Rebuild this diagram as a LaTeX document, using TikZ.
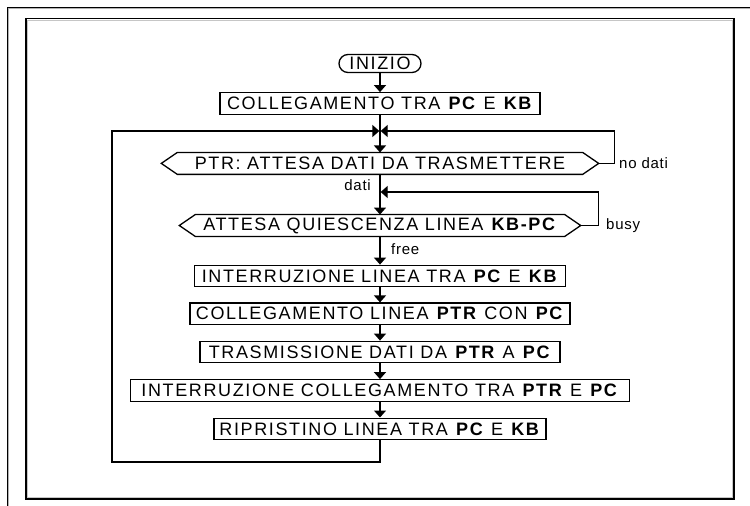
\documentclass[tikz,border=0pt]{standalone}
\usepackage{fontspec}
\usetikzlibrary{arrows.meta}
\newfontfamily\boxfont[LetterSpace=9]{Liberation Sans}
\newfontfamily\tagfont[LetterSpace=5]{Liberation Sans}
\tikzset{
  every picture/.style={line join=miter, >={Triangle[length=7pt,width=12pt]}},
  flowbox/.style={draw, line width=1.3pt, minimum height=21.5pt, inner sep=0pt, font=\boxfont\fontsize{18}{20}\selectfont},
  hexbox/.style={minimum height=21.5pt, inner sep=0pt, font=\boxfont\fontsize{18}{20}\selectfont},
  startbox/.style={draw, line width=1.3pt, rounded corners=9pt, minimum width=82pt, minimum height=18pt, inner sep=0pt, font=\boxfont\fontsize{18}{20}\selectfont},
  hexline/.style={line width=1.3pt},
  flow/.style={line width=1.3pt, ->},
  tag/.style={inner sep=0pt, font=\tagfont\fontsize{15}{17}\selectfont},
}

\begin{document}
\begin{tikzpicture}[x=1pt,y=-1pt]
\useasboundingbox (0,0) rectangle (750,506);
% frames
\draw[gray!60,line width=1pt] (8.6,506) -- (8.6,8.6) -- (750,8.6);
\draw[line width=1.2pt] (7.5,506) -- (7.5,7.5) -- (750,7.5);
\draw[gray!45,line width=0.8pt] (27.4,19.9) rectangle (732.6,497.6);
\draw[line width=1.5pt] (26,18.5) rectangle (734,499);
% steps
\node[startbox] (start) at (380,63.5) {INIZIO};
\node[flowbox,minimum width=320pt] (link) at (380,103.5) {COLLEGAMENTO TRA \textbf{PC} E \textbf{KB}};
\node[hexbox,minimum width=405pt] (ptr) at (380,163.4) {PTR: ATTESA DATI DA TRASMETTERE};
\node[hexbox,minimum width=369pt] (quiet) at (380,225.5) {ATTESA QUIESCENZA LINEA \textbf{KB-PC}};
\node[flowbox,minimum width=371pt] (cut) at (380,276) {INTERRUZIONE LINEA TRA \textbf{PC} E \textbf{KB}};
\node[flowbox,minimum width=380pt] (join2) at (380,313.8) {COLLEGAMENTO LINEA \textbf{PTR} CON \textbf{PC}};
\node[flowbox,minimum width=360pt] (send) at (380,352) {TRASMISSIONE DATI DA \textbf{PTR} A \textbf{PC}};
\node[flowbox,minimum width=499pt] (unlink) at (380,390.5) {INTERRUZIONE COLLEGAMENTO TRA \textbf{PTR} E \textbf{PC}};
\node[flowbox,minimum width=332pt] (restore) at (380,428.9) {RIPRISTINO LINEA TRA \textbf{PC} E \textbf{KB}};
% hexagons
\draw[hexline] (ptr.north west) -- (ptr.north east) -- ([xshift=16pt]ptr.east) -- (ptr.south east) -- (ptr.south west) -- ([xshift=-16pt]ptr.west) -- cycle;
\draw[hexline] (quiet.north west) -- (quiet.north east) -- ([xshift=16pt]quiet.east) -- (quiet.south east) -- (quiet.south west) -- ([xshift=-16pt]quiet.west) -- cycle;
\coordinate (join) at (380,131);
\coordinate (busyjoin) at (380,192);
\coordinate (loopcorner) at (112,462);
% labels
\node[tag,anchor=west] (tnodati) at (619,163.4) {no dati};
\node[tag,anchor=east] (tdati) at (371,185) {dati};
\node[tag,anchor=west] (tbusy) at (606,226) {busy};
\node[tag,anchor=west] (tfree) at (391,249) {free};
% connectors
\draw[flow] (start) -- (link);
\draw[flow] (link) -- (ptr);
\draw[flow] (ptr) -- (quiet);
\draw[flow] (quiet) -- (cut);
\draw[flow] (cut) -- (join2);
\draw[flow] (join2) -- (send);
\draw[flow] (send) -- (unlink);
\draw[flow] (unlink) -- (restore);
\draw[flow] ([xshift=16pt]ptr.east) -- ++(16,0) |- ([xshift=0.65pt]join);
\draw[flow] ([xshift=16pt]quiet.east) -- ++(18,0) |- ([xshift=0.65pt]busyjoin);
\draw[flow] (restore.south) |- (loopcorner) |- ([xshift=-0.65pt]join);
\end{tikzpicture}
\end{document}
